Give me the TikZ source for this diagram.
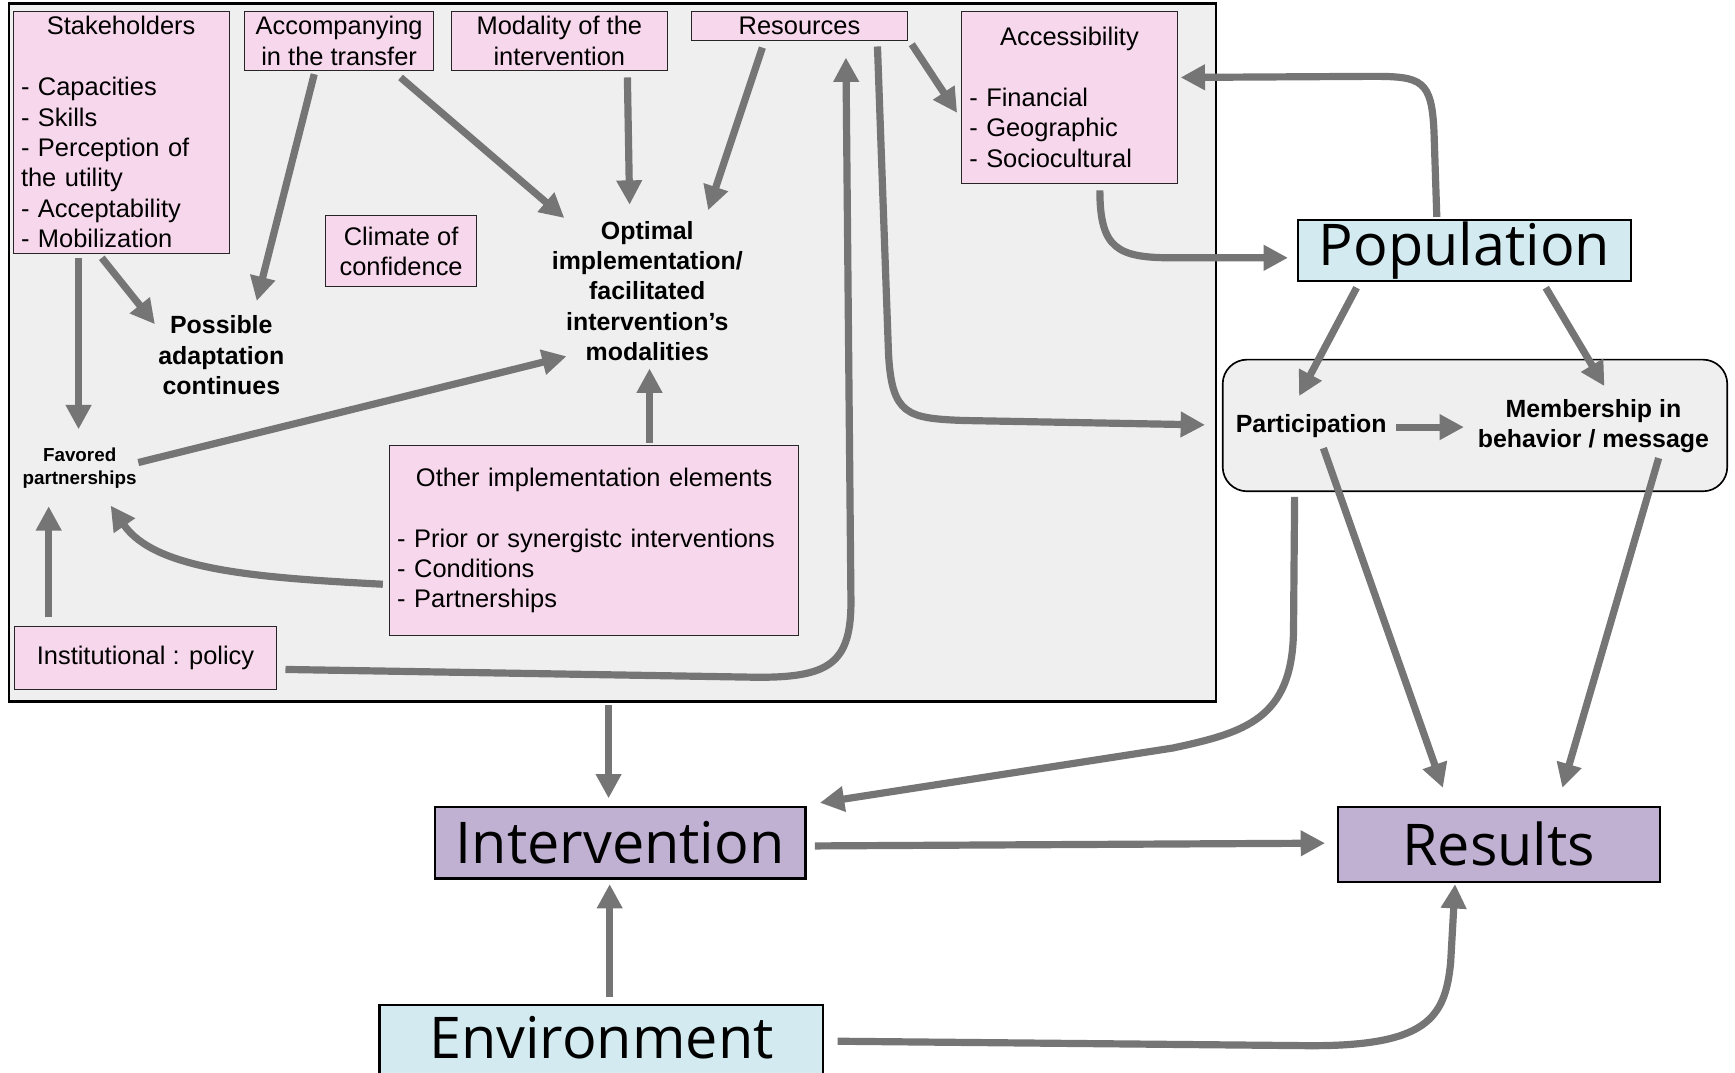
\documentclass[tikz,border=0pt]{standalone}
\usepackage{fontspec}
\setmainfont{Liberation Sans}
\newfontfamily\labelfont{Open Sans}
\usetikzlibrary{arrows.meta}
\definecolor{pinkfill}{HTML}{F7D7EC}
\definecolor{greyfill}{HTML}{EFEFEF}
\definecolor{cyanfill}{HTML}{D3EBF0}
\definecolor{lilacfill}{HTML}{C0B1D2}
\definecolor{arrowgrey}{HTML}{757575}
\tikzset{
  pinkbox/.style={draw=black!85, line width=0.8pt, fill=pinkfill, inner xsep=7pt, inner ysep=0pt, font=\fontsize{23}{27.5}\selectfont},
  boldtext/.style={align=center, inner sep=0pt, font=\bfseries\fontsize{22.5}{27.5}\selectfont},
  bigbox/.style={draw=black, line width=2pt, inner sep=0pt, font=\labelfont\fontsize{52}{60}\selectfont},
  flow/.style={draw=arrowgrey, line width=6.5pt, line join=round, -{Triangle[width=22pt,length=22pt]}}
}

\begin{document}
\begin{tikzpicture}[x=1pt,y=-1pt]
        \fill[white] (0,0) rectangle (1568,969);
        \useasboundingbox (0,0) rectangle (1568,969);
        \node[draw=black, line width=2.2pt, fill=greyfill, minimum width=1091pt, minimum height=631pt] (frame) at (553.5,318.5) {};
        \node[pinkbox, minimum width=195pt, minimum height=219pt, text width=181pt, align=left] (stake) at (109.5,119.5)
            {\makebox[181pt]{Stakeholders}\\[27.5pt]- Capacities\\- Skills\\- Perception of\\the utility\\- Acceptability\\- Mobilization};
        \node[pinkbox, minimum width=171pt, minimum height=54pt, align=center] (accomp) at (306.5,37) {Accompanying\\in the transfer};
        \node[pinkbox, minimum width=195pt, minimum height=54pt, align=center] (modal) at (505.5,37) {Modality of the\\intervention};
        \node[pinkbox, minimum width=195pt, minimum height=27pt] (resour) at (722.5,23.5) {Resources};
        \node[pinkbox, minimum width=195pt, minimum height=156pt, text width=181pt, align=left] (access) at (966.5,88)
            {\makebox[181pt]{Accessibility}\\[27.5pt]- Financial\\- Geographic\\- Sociocultural};
        \node[pinkbox, minimum width=137pt, minimum height=64pt, align=center] (climate) at (362.5,227) {Climate of\\confidence};
        \node[pinkbox, minimum width=370pt, minimum height=171pt, text width=356pt, align=left] (other) at (537,488.5)
            {\makebox[356pt]{Other implementation elements}\\[27.5pt]- Prior or synergistc interventions\\- Conditions\\- Partnerships};
        \node[pinkbox, minimum width=237pt, minimum height=57pt] (instit) at (131.5,594.5) {Institutional : policy};
        \node[boldtext] (possible) at (200,321) {Possible\\adaptation\\continues};
        \node[boldtext] (optimal) at (585,263) {Optimal\\implementation/\\facilitated\\intervention’s\\modalities};
        \node[boldtext, font=\bfseries\fontsize{17}{21}\selectfont] (favored) at (72,423) {Favored\\partnerships};
        \node[bigbox, fill=cyanfill, minimum width=301pt, minimum height=55pt] (popul) at (1323.5,226.5) {Population};
        \node[draw=black, line width=1.5pt, fill=greyfill, rounded corners=22pt, minimum width=456pt, minimum height=119pt] (group) at (1333,384.5) {};
        \node[boldtext] (partic) at (1185,385) {Participation};
        \node[boldtext] (member) at (1440,385) {Membership in\\behavior / message};
        \node[bigbox, fill=lilacfill, minimum width=335pt, minimum height=65pt] (interv) at (560.5,761.5) {Intervention};
        \node[bigbox, fill=lilacfill, minimum width=291pt, minimum height=68pt] (results) at (1354.5,763) {Results};
        \node[bigbox, fill=cyanfill, minimum width=401pt, minimum height=67pt, text depth=8pt] (envir) at (543.5,941.5) {Environment};

        \draw[flow] ([shift={(-38.5,113.5)}]stake.center) -- ([shift={(-1,-35)}]favored.center);
        \draw[flow] ([shift={(-17.5,113.5)}]stake.center) -- ([shift={(-60,-28)}]possible.center);
        \draw[flow] ([shift={(-22.5,30)}]accomp.center) -- ([shift={(32,-49)}]possible.center);
        \draw[flow] ([shift={(55.5,33)}]accomp.center) -- ([shift={(-75,-66)}]optimal.center);
        \draw[flow] ([shift={(61.5,33)}]modal.center) -- ([shift={(-16,-78)}]optimal.center);
        \draw[flow] ([shift={(-33.5,19.5)}]resour.center) -- ([shift={(55,-73)}]optimal.center);
        \draw[flow] ([shift={(101.5,16.5)}]resour.center) -- ([shift={(-101.5,14)}]access.center);
        \draw[flow] ([shift={(70.5,18.5)}]resour.center) -- (803,320) .. controls (806,375) and (820,378) .. (870,380)
            -- ([shift={(-244,-0.5)}]group.center);
        \draw[flow] ([shift={(126.5,10.5)}]instit.center) -- (680,612) .. controls (750,613) and (770,600) .. (769,540)
            -- ([shift={(42,28.5)}]resour.center);
        \draw[flow] ([shift={(-87.5,-36.5)}]instit.center) -- ([shift={(-28,34.5)}]favored.center);
        \draw[flow] ([shift={(-191,39.5)}]other.center) .. controls (230,522) and (140,515) .. ([shift={(28,34)}]favored.center);
        \draw[flow] ([shift={(53,-5)}]favored.center) -- ([shift={(-73,59)}]optimal.center);
        \draw[flow] ([shift={(50,-88.5)}]other.center) -- ([shift={(2,70)}]optimal.center);
        \draw[flow] ([shift={(27.5,84)}]access.center) .. controls (994,225) and (1010,233) .. (1060,233)
            -- ([shift={(-159.5,6.5)}]popul.center);
        \draw[flow] ([shift={(-25,-30.5)}]popul.center) -- (1296,120) .. controls (1294,72) and (1285,69) .. (1240,69)
            -- ([shift={(100.5,-18)}]access.center);
        \draw[flow] ([shift={(-97.5,33.5)}]popul.center) -- ([shift={(-11,-27)}]partic.center);
        \draw[flow] ([shift={(73.5,33.5)}]popul.center) -- ([shift={(10,-36)}]member.center);
        \draw[flow] ([shift={(77,1)}]partic.center) -- ([shift={(-117,1)}]member.center);
        \draw[flow] ([shift={(11,20)}]partic.center) -- ([shift={(-50.5,-51)}]results.center);
        \draw[flow] ([shift={(59,29)}]member.center) -- ([shift={(57.5,-51)}]results.center);
        \draw[flow] ([shift={(-163,64.5)}]group.center) -- (1169,570) .. controls (1168,650) and (1125,662) .. (1060,676)
            -- ([shift={(180.5,-36)}]interv.center);
        \draw[flow] ([shift={(-3.5,318.5)}]frame.center) -- ([shift={(-10.5,-40)}]interv.center);
        \draw[flow] ([shift={(176,3)}]interv.center) -- ([shift={(-157,-1)}]results.center);
        \draw[flow] ([shift={(7.5,-40.5)}]envir.center) -- ([shift={(-9.5,37.5)}]interv.center);
        \draw[flow] ([shift={(213.5,-0.5)}]envir.center) -- (1180,945) .. controls (1290,946) and (1306,920) .. (1311,870)
            -- ([shift={(-39.5,36)}]results.center);
    \end{tikzpicture}
\end{document}
